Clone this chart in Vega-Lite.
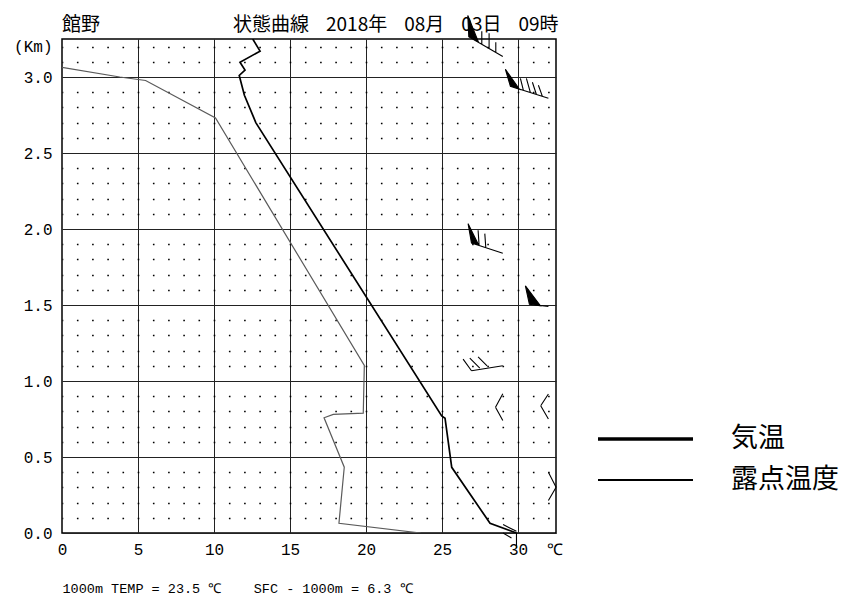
{
  "$schema": "https://vega.github.io/schema/vega-lite/v6.json",
  "width": 494,
  "height": 494,
  "autosize": {"type": "none"},
  "padding": {"left": 62, "top": 39, "right": 290, "bottom": 66},
  "background": "white",
  "title": {
    "text": "館野　　　　　　　状態曲線\u00a0\u00a0\u00a0\u00a02018年\u00a0\u00a0\u00a0\u00a008月\u00a0\u00a0\u00a0\u00a003日\u00a0\u00a0\u00a0\u00a009時",
    "anchor": "start",
    "frame": "group",
    "font": "Noto Sans CJK JP",
    "fontSize": 19,
    "fontWeight": "normal",
    "baseline": "bottom",
    "offset": 7,
    "dy": 48,
    "color": "#000"
  },
  "config": {
    "view": {"stroke": "#000", "strokeWidth": 1.5},
    "axis": {"labelColor": "#000", "titleColor": "#000"}
  },
  "datasets": {
    "profiles": [
      {"series": "気温", "T": 29.9, "h": 0.0},
      {"series": "気温", "T": 28.16, "h": 0.064},
      {"series": "気温", "T": 25.64, "h": 0.432},
      {"series": "気温", "T": 25.2, "h": 0.755},
      {"series": "気温", "T": 24.98, "h": 0.77},
      {"series": "気温", "T": 12.75, "h": 2.7},
      {"series": "気温", "T": 12.0, "h": 2.88},
      {"series": "気温", "T": 11.66, "h": 3.01},
      {"series": "気温", "T": 12.04, "h": 3.046},
      {"series": "気温", "T": 11.71, "h": 3.097},
      {"series": "気温", "T": 13.03, "h": 3.17},
      {"series": "気温", "T": 12.55, "h": 3.25},
      {"series": "露点温度", "T": 23.6, "h": 0.0},
      {"series": "露点温度", "T": 18.22, "h": 0.064},
      {"series": "露点温度", "T": 18.57, "h": 0.433},
      {"series": "露点温度", "T": 17.24, "h": 0.758},
      {"series": "露点温度", "T": 17.85, "h": 0.78},
      {"series": "露点温度", "T": 19.82, "h": 0.788},
      {"series": "露点温度", "T": 19.89, "h": 1.102},
      {"series": "露点温度", "T": 10.1, "h": 2.73},
      {"series": "露点温度", "T": 5.5, "h": 2.977},
      {"series": "露点温度", "T": 3.8, "h": 3.0},
      {"series": "露点温度", "T": 0.0, "h": 3.064}
    ]
  },
  "resolve": {
    "scale": {"strokeWidth": "independent"},
    "legend": {"strokeWidth": "independent"}
  },
  "layer": [
    {
      "data": {"name": "profiles"},
      "mark": {"type": "line", "clip": true},
      "encoding": {
        "x": {
          "field": "T",
          "type": "quantitative",
          "scale": {"domain": [0, 32.5], "nice": false, "zero": false},
          "axis": {
            "values": [0, 5, 10, 15, 20, 25, 30, 32.4],
            "tickCount": 100,
            "format": "d",
            "labelExpr": "datum.value > 32 ? '℃' : (datum.value < 10 ? '\u00a0' + datum.label : datum.label)",
            "labelFont": "Liberation Mono",
            "labelFontSize": 16,
            "labelPadding": 8,
            "labelFlush": false,
            "labelOverlap": false,
            "ticks": false,
            "domain": false,
            "grid": true,
            "gridColor": "#222",
            "gridWidth": 1,
            "gridOpacity": {"condition": {"test": "datum.value > 32 || datum.value < 1", "value": 0}, "value": 1},
            "title": "1000m TEMP = 23.5 ℃\u00a0\u00a0\u00a0\u00a0SFC - 1000m = 6.3 ℃",
            "titleFont": "Liberation Mono",
            "titleFontSize": 13.5,
            "titleFontWeight": "normal",
            "titleX": 0,
            "titleY": 55,
            "titleAlign": "left",
            "titleBaseline": "middle",
            "titleAnchor": "start"
          }
        },
        "y": {
          "field": "h",
          "type": "quantitative",
          "scale": {"domain": [0, 3.25], "nice": false, "zero": false},
          "axis": {
            "values": [0, 0.1, 0.2, 0.3, 0.4, 0.5, 0.6, 0.7, 0.8, 0.9, 1, 1.1, 1.2, 1.3, 1.4, 1.5, 1.6, 1.7, 1.8, 1.9, 2, 2.1, 2.2, 2.3, 2.4, 2.5, 2.6, 2.7, 2.8, 2.9, 3, 3.1, 3.2],
            "tickCount": 100,
            "labelExpr": "datum.value > 3.15 ? '(Km)' : (abs(datum.value*2 - round(datum.value*2)) < 0.001 ? format(datum.value, '.1f') : '')",
            "labelFont": "Liberation Mono",
            "labelFontSize": 16,
            "labelPadding": 10,
            "labelFlush": false,
            "labelOverlap": false,
            "ticks": false,
            "domain": false,
            "grid": true,
            "gridColor": {"condition": {"test": "abs(datum.value*2 - round(datum.value*2)) < 0.001", "value": "#222"}, "value": "#000"},
            "gridWidth": {"condition": {"test": "abs(datum.value*2 - round(datum.value*2)) < 0.001", "value": 1}, "value": 1.6},
            "gridDash": {"condition": {"test": "abs(datum.value*2 - round(datum.value*2)) < 0.001", "value": []}, "value": [1.6, 13.6]},
            "gridDashOffset": 0.8,
            "title": null
          }
        },
        "color": {
          "field": "series",
          "type": "nominal",
          "scale": {"domain": ["気温", "露点温度"], "range": ["#000000", "#5a5a5a"]},
          "legend": null
        },
        "strokeWidth": {
          "field": "series",
          "type": "nominal",
          "scale": {"domain": ["気温", "露点温度"], "range": [1.7, 1.2]},
          "legend": null
        },
        "order": {"field": "h", "type": "quantitative"}
      }
    },
    {
      "data": {"name": "profiles"},
      "mark": {"type": "line", "opacity": 0, "color": "#000"},
      "encoding": {
        "x": {"field": "T", "type": "quantitative"},
        "y": {"field": "h", "type": "quantitative"},
        "order": {"field": "h", "type": "quantitative"},
        "strokeWidth": {
          "field": "series",
          "type": "nominal",
          "scale": {"domain": ["気温", "露点温度"], "range": [3.3, 2]},
          "legend": {
            "orient": "none",
            "legendX": 534,
            "legendY": 385,
            "title": null,
            "padding": 0,
            "symbolType": "stroke",
            "symbolSize": 9025,
            "symbolStrokeColor": "#000",
            "symbolOpacity": 1,
            "labelFont": "Noto Sans CJK JP",
            "labelFontSize": 27,
            "labelColor": "#000",
            "labelOffset": 36,
            "labelLimit": 300,
            "clipHeight": 30,
            "rowPadding": 11
          }
        }
      }
    },
    {
      "data": {
        "values": [
          {"T": 29.0, "h": 3.135, "barb": "b1"},
          {"T": 32.0, "h": 2.86, "barb": "b2"},
          {"T": 29.0, "h": 1.84, "barb": "b3"},
          {"T": 32.0, "h": 1.49, "barb": "b4"},
          {"T": 29.0, "h": 1.1, "barb": "b5"},
          {"T": 29.0, "h": 0.74, "barb": "b6"},
          {"T": 32.0, "h": 0.75, "barb": "b7"},
          {"T": 32.0, "h": 0.4, "barb": "b8"},
          {"T": 29.9, "h": 0.0, "barb": "b9"}
        ]
      },
      "mark": {"type": "point", "filled": true, "fill": "#000", "stroke": "#000", "strokeWidth": 1.1, "opacity": 1, "size": 10000, "clip": false},
      "encoding": {
        "x": {"field": "T", "type": "quantitative"},
        "y": {"field": "h", "type": "quantitative"},
        "shape": {
          "field": "barb",
          "type": "nominal",
          "scale": {
            "domain": ["b1", "b2", "b3", "b4", "b5", "b6", "b7", "b8", "b9"],
            "range": [
              "M0,0L-0.68,-0.394M-0.70,-0.82L-0.68,-0.394L-0.484,-0.281ZM-0.42,-0.244L-0.42,-0.506M-0.274,-0.159L-0.274,-0.466M-0.14,-0.081L-0.14,-0.286",
              "M0,0L-0.76,-0.24M-0.86,-0.58L-0.76,-0.24L-0.58,-0.18ZM-0.50,-0.157L-0.56,-0.40M-0.36,-0.113L-0.44,-0.40M-0.24,-0.075L-0.32,-0.32M-0.12,-0.038L-0.20,-0.26",
              "M0,0L-0.626,-0.206M-0.694,-0.594L-0.626,-0.206L-0.48,-0.16ZM-0.474,-0.158L-0.494,-0.46M-0.34,-0.113L-0.36,-0.394",
              "M0,0L-0.38,-0.044M-0.46,-0.414L-0.38,-0.044L-0.16,-0.014Z",
              "M0,0L-0.626,0.10M-0.626,0.10L-0.794,-0.134M-0.46,0.046L-0.66,-0.154M-0.314,0L-0.494,-0.18",
              "M0,0L-0.146,-0.266M-0.146,-0.266L0,-0.534",
              "M0,0L-0.154,-0.266M-0.154,-0.266L0,-0.50",
              "M0,0L0.154,0.30M0.154,0.30L0,0.566",
              "M-0.268,-0.168L0,-0.034M-0.268,0L-0.10,0.10M0,0L0,0.30"
            ]
          },
          "legend": null
        }
      }
    }
  ]
}
